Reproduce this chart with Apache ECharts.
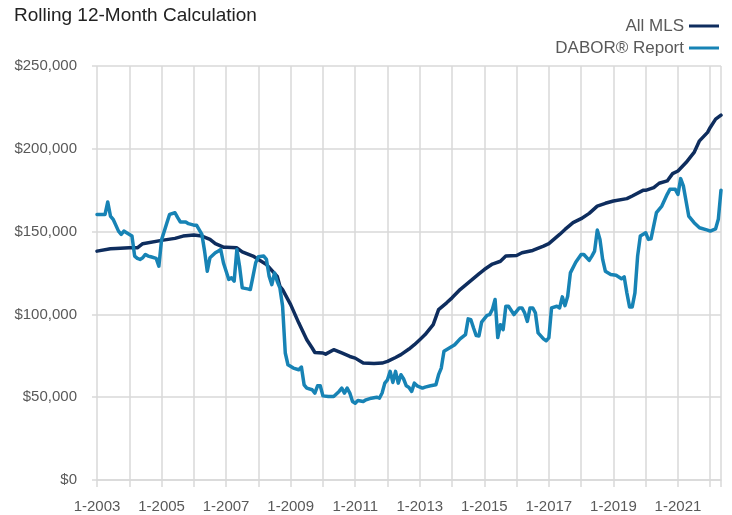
<!DOCTYPE html>
<html lang="en">
<head>
    <meta charset="utf-8" />
    <title>Rolling 12-Month Calculation</title>
    <script src="https://cdn.jsdelivr.net/npm/echarts@6/dist/echarts.min.js"></script>
    <style>
        html, body { margin: 0; padding: 0; background: #fff; }
        #chart { width: 732px; height: 515px; }
    </style>
</head>
<body>
<div id="chart"></div>
<script>
    // month index: 0 = Jan 2003, 12 = Jan 2004 ... 232 = May 2022
    var firstYear = 2003;
    var lastMonth = 232;

    // All MLS (vertices of the line)
    var mlsMonth = [0, 5, 7, 12, 15, 17, 24, 29, 32, 36, 39, 42, 44, 47, 48, 52, 54, 58, 60, 63, 67, 68, 69,
        72, 75, 78, 80, 81, 84, 85, 88, 91, 94, 96, 99, 103, 106, 108, 111, 113, 116, 118, 120, 122, 125, 127,
        130, 132, 135, 138, 142, 144, 147, 150, 152, 156, 158, 162, 166, 168, 172, 174, 177, 180, 183, 186,
        189, 192, 197, 199, 203, 204, 207, 209, 212, 214, 216, 219, 222, 224, 227, 228, 230, 232];
    var mlsValue = [138200, 139600, 139800, 140200, 140200, 142700, 144700, 145900, 147300, 147900, 147300,
        145300, 142700, 140600, 140600, 140200, 137800, 135200, 133200, 130100, 123000, 117000, 115000,
        105900, 94900, 84700, 79700, 77000, 76700, 76000, 78700, 76700, 74600, 73600, 70600, 70400, 70600,
        71600, 74000, 75700, 79100, 81700, 84700, 87800, 93800, 102900, 107000, 110000, 115000, 119000,
        124500, 127100, 130400, 132100, 135200, 135600, 137200, 138600, 141200, 142700, 148300, 151300,
        155400, 157800, 161000, 165400, 167100, 168500, 169900, 171500, 174900, 174900, 176600, 179200,
        180600, 185000, 186600, 191700, 197800, 204800, 209900, 212900, 217900, 220300];

    // DABOR Report
    var daborMonth = [0, 3, 4, 5, 6, 8, 9, 10, 11, 13, 14, 15, 16, 17, 18, 19, 20, 22, 23, 24, 26, 27, 29,
        30, 31, 33, 34, 36, 37, 39, 40, 41, 42, 44, 45, 46, 47, 49, 50, 51, 52, 53, 54, 56, 57, 58, 59, 60,
        62, 63, 64, 65, 66, 67, 68, 69, 70, 71, 73, 75, 76, 77, 78, 80, 81, 82, 83, 84, 86, 88, 90, 91, 92,
        93, 94, 95, 96, 97, 99, 100, 102, 104, 105, 106, 107, 108, 109, 110, 111, 112, 113, 114, 115, 116,
        117, 118, 119, 121, 122, 124, 126, 127, 128, 129, 131, 133, 135, 137, 138, 139, 140, 141, 142, 143,
        145, 146, 147, 148, 149, 150, 151, 152, 153, 155, 157, 158, 159, 160, 161, 162, 163, 164, 166, 167,
        168, 169, 171, 172, 173, 174, 175, 176, 178, 180, 181, 183, 184, 185, 186, 187, 188, 189, 191, 193,
        195, 196, 197, 198, 199, 200, 201, 202, 204, 205, 206, 208, 210, 212, 213, 215, 216, 217, 218, 220,
        222, 224, 227, 228, 230, 231, 232];
    var daborValue = [160400, 160400, 167900, 159400, 157400, 150300, 148300, 150300, 149300, 147300,
        135200, 133800, 133200, 134200, 136200, 135200, 134800, 133800, 129100, 145000, 155400, 160400,
        161400, 158400, 155800, 155800, 154800, 153900, 153900, 148300, 138200, 126100, 134200, 137200,
        138200, 139200, 131200, 121100, 122100, 120100, 139200, 129100, 116000, 115400, 115000, 123000,
        131200, 134800, 135200, 133200, 123000, 118000, 125100, 120000, 116000, 105000, 76700, 69600,
        67600, 66600, 68200, 57500, 55500, 54500, 52500, 56900, 56900, 50800, 50400, 50400, 53500, 55500,
        52500, 55500, 52500, 47400, 46400, 48000, 47400, 48400, 49400, 50000, 49400, 52500, 58500, 60500,
        65600, 58900, 65600, 58500, 63600, 61000, 56900, 55900, 53500, 58500, 56900, 55500, 56100, 56900,
        57500, 63600, 67600, 77700, 79700, 81700, 85200, 87800, 97300, 96800, 91800, 87200, 87000, 95300,
        99400, 99900, 103000, 109000, 86000, 93800, 90800, 104900, 104900, 99900, 103900, 103900, 100900,
        95800, 103900, 103900, 100900, 88800, 85200, 84100, 85800, 103900, 104900, 103900, 110600, 105300,
        111000, 125100, 131500, 136200, 136200, 132600, 135200, 138200, 150900, 145300, 133200, 126100,
        124100, 123600, 121500, 122700, 113000, 104500, 104500, 113000, 135200, 147300, 149300, 145300,
        145700, 161400, 165400, 172500, 175500, 175500, 172500, 182000, 177600, 159400, 155400, 152300,
        150900, 150300, 151700, 157400, 175000];

    var yTicks = [0, 50000, 100000, 150000, 200000, 250000];

    var font = "'Liberation Sans', Arial, sans-serif";
    var gridColor = '#d9d9d9';
    var mlsColor = '#0e2d5e';
    var daborColor = '#1783b5';

    function pairs(months, values) {
        var out = [];
        for (var i = 0; i < months.length; i++) {
            out.push([months[i], values[i]]);
        }
        return out;
    }

    var myChart = echarts.init(document.getElementById('chart'));
    var option = {
        animation: false,
        textStyle: { fontFamily: font },
        title: {
            text: 'Rolling 12-Month Calculation',
            left: 9,
            top: 1,
            textStyle: { fontFamily: font, fontSize: 19, fontWeight: 'normal', color: '#222' }
        },
        legend: {
            orient: 'vertical',
            right: 8,
            top: 12,
            align: 'right',
            icon: 'rect',
            itemWidth: 30,
            itemHeight: 3,
            itemGap: 4,
            textStyle: { fontFamily: font, fontSize: 17, color: '#595959', lineHeight: 18 },
            data: ['All MLS', 'DABOR® Report']
        },
        grid: { left: 97, right: 11, top: 66, bottom: 35 },
        xAxis: {
            type: 'value',
            min: 0,
            max: lastMonth,
            interval: 12,
            axisLine: { show: true, lineStyle: { color: gridColor, width: 1.5 } },
            axisTick: { show: true, length: 7, lineStyle: { color: gridColor, width: 1.5 } },
            splitLine: { show: true, lineStyle: { color: gridColor, width: 1.5 } },
            axisLabel: {
                fontFamily: font,
                fontSize: 15,
                color: '#595959',
                margin: 19,
                formatter: function (v) {
                    if (v % 24 === 0) { return '1-' + (firstYear + v / 12); }
                    return '';
                }
            }
        },
        yAxis: {
            type: 'value',
            min: yTicks[0],
            max: yTicks[yTicks.length - 1],
            interval: yTicks[1] - yTicks[0],
            axisLine: { show: false },
            axisTick: { show: true, length: 5, lineStyle: { color: gridColor, width: 1.5 } },
            splitLine: { show: true, lineStyle: { color: gridColor, width: 1.5 } },
            axisLabel: {
                fontFamily: font,
                fontSize: 15,
                color: '#595959',
                margin: 20,
                formatter: function (v) { return '$' + v.toLocaleString('en-US'); }
            }
        },
        series: [{
            name: 'All MLS',
            type: 'line',
            symbol: 'none',
            color: mlsColor,
            lineStyle: { width: 3.5, color: mlsColor, join: 'round', cap: 'round' },
            data: pairs(mlsMonth, mlsValue)
        }, {
            name: 'DABOR® Report',
            type: 'line',
            symbol: 'none',
            color: daborColor,
            lineStyle: { width: 3.5, color: daborColor, join: 'round', cap: 'round' },
            data: pairs(daborMonth, daborValue)
        }]
    };
    myChart.setOption(option);
</script>
</body>
</html>
